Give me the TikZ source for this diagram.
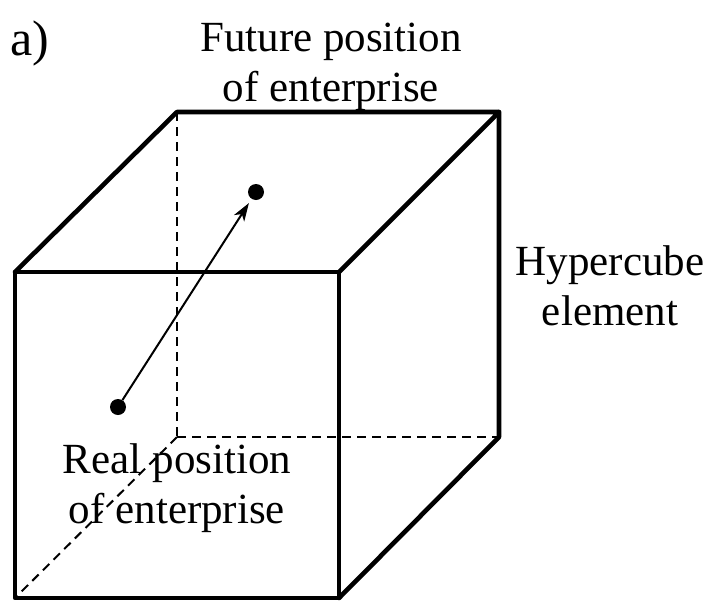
\documentclass[tikz,border=0pt]{standalone}
\usepackage{fontspec}
\setmainfont{Liberation Serif}
\usetikzlibrary{arrows.meta}

\begin{document}
\begin{tikzpicture}[x=1pt, y=-1pt,
    edge/.style={line width=4.6pt, line join=round, line cap=round},
    hidden/.style={line width=2pt, dash pattern=on 9pt off 6pt},
    dot/.style={circle, fill=black, inner sep=0pt, minimum size=16pt},
    label/.style={align=center, inner sep=0pt, anchor=north, font=\fontsize{43}{50}\selectfont},
    arrow/.style={-{Stealth[length=18pt, width=12pt, inset=5pt]}, line width=2pt}
]
    \useasboundingbox (0,0) rectangle (713,603);

    % Cube corners
    \coordinate (fbl) at (15,598);
    \coordinate (fbr) at (339,598);
    \coordinate (ftr) at (339,272);
    \coordinate (ftl) at (15,272);
    \coordinate (btl) at (177,112);
    \coordinate (btr) at (499,112);
    \coordinate (bbr) at (499,437);
    \coordinate (bbl) at (177,437);

    % Hidden edges
    \draw[hidden] (btl) -- (bbl);
    \draw[hidden] (bbl) -- (bbr);
    \draw[hidden] (bbl) -- (fbl);

    % Visible edges
    \draw[edge] (fbl) -- (fbr) -- (ftr) -- (ftl) -- cycle;
    \draw[edge] (ftl) -- (btl) -- (btr) -- (ftr);
    \draw[edge] (btr) -- (bbr) -- (fbr);

    % Positions
    \node[dot] (real) at (118,407) {};
    \node[dot] (future) at (256,192) {};
    \draw[arrow, shorten >=5pt] (real) -- (future);

    % Labels
    \node[font=\fontsize{50}{60}\selectfont, inner sep=0pt, anchor=base west] (tag) at (10,55) {a)};
    \node[label] (futuretext) at (331,23) {Future position\\of enterprise};
    \node[label] (cubetext) at (610,245) {Hypercube\\element};
    \node[label] (realtext) at (177,443) {Real position\\of enterprise};
\end{tikzpicture}
\end{document}
